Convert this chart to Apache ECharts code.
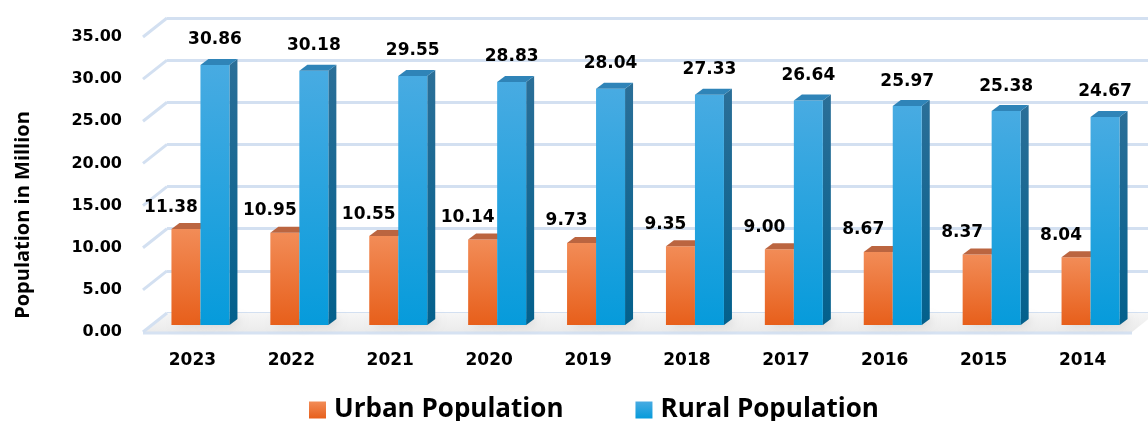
<!DOCTYPE html>
<html>
<head>
<meta charset="utf-8">
<script src="https://cdn.jsdelivr.net/npm/echarts@6/dist/echarts.min.js"></script>
<style>
  html, body { margin: 0; padding: 0; background: #fff; }
  #echart { width: 1148px; height: 421px; }
</style>
</head>
<body>
<div id="echart"></div>
<script>
// data
var years = ['2023', '2022', '2021', '2020', '2019', '2018', '2017', '2016', '2015', '2014'];
var urban = [11.38, 10.95, 10.55, 10.14, 9.73, 9.35, 9.00, 8.67, 8.37, 8.04];
var rural = [30.86, 30.18, 29.55, 28.83, 28.04, 27.33, 26.64, 25.97, 25.38, 24.67];
var yTicks = [0, 5, 10, 15, 20, 25, 30, 35];

var myChart = echarts.init(document.getElementById('echart'));

var LG = echarts.graphic.LinearGradient;
var orangeFront = new LG(0, 0, 0, 1, [{offset: 0, color: '#f28c57'}, {offset: 1, color: '#e75f1b'}]);
var blueFront = new LG(0, 0, 0, 1, [{offset: 0, color: '#48abe2'}, {offset: 1, color: '#069bdb'}]);
var blueSide = new LG(0, 0, 0, 1, [{offset: 0, color: '#2b6f98'}, {offset: 1, color: '#03608c'}]);

var depthX = 8, depthY = 6, barW = 29;
var labelFont = {fontFamily: 'DejaVu Sans', fontWeight: 'bold', fontSize: 17, fill: '#000'};

function barRender(kind) {
    return function (params, api) {
        var i = api.value(0), v = api.value(1);
        var top = api.coord([i, v]);
        var base = api.coord([i, 0]);
        var x0 = kind === 'urban' ? top[0] - 21 : top[0] + 8;
        var t = top[1], b = base[1];
        var children = [];
        // soft shadow on the floor
        children.push({
            type: 'polygon',
            shape: {points: [[x0, b], [x0 + barW, b], [x0 + barW + depthX, b - depthY], [x0 + depthX, b - depthY]]},
            style: {fill: 'rgba(90,90,90,0.35)', shadowBlur: 10, shadowOffsetX: 3, shadowColor: 'rgba(0,0,0,0.45)'}
        });
        if (kind === 'rural') {
            children.push({
                type: 'polygon',
                shape: {points: [[x0 + barW, t], [x0 + barW + depthX, t - depthY], [x0 + barW + depthX, b - depthY], [x0 + barW, b]]},
                style: {fill: blueSide}
            });
        }
        children.push({
            type: 'rect',
            shape: {x: x0, y: t, width: barW, height: b - t},
            style: {fill: kind === 'urban' ? orangeFront : blueFront}
        });
        children.push({
            type: 'polygon',
            shape: {points: [[x0, t], [x0 + barW, t], [x0 + barW + depthX, t - depthY], [x0 + depthX, t - depthY]]},
            style: {fill: kind === 'urban' ? '#bb6540' : '#2f84b8'}
        });
        children.push({
            type: 'text',
            x: kind === 'urban' ? x0 + barW / 2 - 15 : x0 + barW / 2,
            y: kind === 'urban' ? t - 22 : t - 25,
            style: echarts.util.extend({
                text: v.toFixed(2), align: 'center', verticalAlign: 'middle'
            }, labelFont)
        });
        return {type: 'group', children: children};
    };
}

function wallRender(params, api) {
    var v = api.value(1);
    var p = api.coord([0, v]);
    var gx = params.coordSys.x, gw = params.coordSys.width;
    var yf = p[1] + 7, yb = p[1] - 12;
    var children = [];
    if (v === 0) {
        children.push({
            type: 'polygon',
            shape: {points: [[gx, yf], [gx + gw, yf], [gx + gw + 24, yb], [gx + 24, yb]]},
            style: {fill: new LG(0, 0, 0, 1, [{offset: 0, color: '#f6f6f6'}, {offset: 1, color: '#ebebeb'}])}
        });
        children.push({
            type: 'line',
            shape: {x1: gx, y1: yf + 1, x2: gx + gw, y2: yf + 1},
            style: {stroke: '#d6e2f2', lineWidth: 3}
        });
    }
    children.push({
        type: 'line',
        shape: {x1: gx, y1: yf, x2: gx + 24, y2: yb},
        style: {stroke: '#d3e0f1', lineWidth: 3}
    });
    return {type: 'group', children: children};
}

var option = {
    backgroundColor: '#fff',
    animation: false,
    grid: [
        {left: 143, right: 16, top: 30, height: 295},   // bars plane
        {left: 143, right: 16, top: 37, height: 295},   // front plane (labels)
        {left: 167, right: 0, top: 18, height: 295}     // back wall
    ],
    xAxis: [
        {gridIndex: 0, type: 'category', data: years, show: false},
        {
            gridIndex: 1, type: 'category', data: years,
            axisLine: {show: false}, axisTick: {show: false},
            axisLabel: {margin: 20, color: '#000', fontFamily: 'DejaVu Sans', fontWeight: 'bold', fontSize: 17}
        },
        {gridIndex: 2, type: 'category', data: years, show: false}
    ],
    yAxis: [
        {gridIndex: 0, type: 'value', min: 0, max: 35, interval: 5, show: false},
        {
            gridIndex: 1, type: 'value', min: 0, max: 35, interval: 5,
            axisLine: {show: false}, axisTick: {show: false}, splitLine: {show: false},
            axisLabel: {
                margin: 21, color: '#000', fontFamily: 'DejaVu Sans', fontWeight: 'bold', fontSize: 16,
                formatter: function (val) { return val.toFixed(2); }
            }
        },
        {
            gridIndex: 2, type: 'value', min: 0, max: 35, interval: 5,
            axisLine: {show: false}, axisTick: {show: false}, axisLabel: {show: false},
            splitLine: {lineStyle: {color: '#d3e0f1', width: 3}}
        }
    ],
    legend: {
        data: ['Urban Population', 'Rural Population'],
        left: 304, top: 391,
        icon: 'rect', itemWidth: 17, itemHeight: 17, itemGap: 72,
        textStyle: {color: '#000', fontFamily: 'Open Sans', fontWeight: 'bold', fontSize: 26, lineHeight: 28, padding: [0, 0, 0, 3]}
    },
    graphic: [{
        type: 'text', x: 23, y: 215, rotation: Math.PI / 2,
        style: {
            text: 'Population in Million', align: 'center', verticalAlign: 'middle',
            fontFamily: 'Open Sans', fontWeight: 'bold', fontSize: 20, fill: '#000'
        }
    }],
    series: [
        {
            name: 'wall', type: 'custom', xAxisIndex: 0, yAxisIndex: 0,
            data: yTicks.map(function (v) { return [0, v]; }),
            renderItem: wallRender, silent: true, z: 1
        },
        {
            name: 'Urban Population', type: 'custom', xAxisIndex: 0, yAxisIndex: 0,
            itemStyle: {color: orangeFront},
            data: urban.map(function (v, i) { return [i, v]; }),
            renderItem: barRender('urban'), z: 2
        },
        {
            name: 'Rural Population', type: 'custom', xAxisIndex: 0, yAxisIndex: 0,
            itemStyle: {color: blueFront},
            data: rural.map(function (v, i) { return [i, v]; }),
            renderItem: barRender('rural'), z: 3
        }
    ]
};
myChart.setOption(option);
</script>
</body>
</html>
